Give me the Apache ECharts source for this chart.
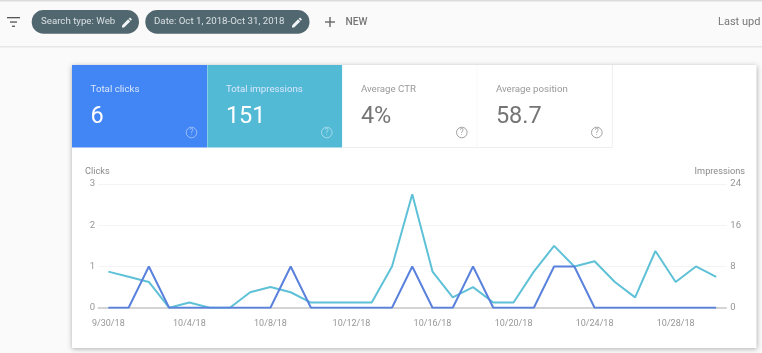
<!DOCTYPE html>
<html>
<head>
<meta charset="utf-8" />
<title>Search performance</title>
<script src="https://cdn.jsdelivr.net/npm/echarts@6/dist/echarts.min.js"></script>
<style type="text/css">
html, body { margin: 0; padding: 0; background: #fafafa; }
#main { width: 762px; height: 353px; filter: blur(0.4px); }
</style>
</head>
<body>
<div id="main"></div>
<script type="text/javascript">
var dates = ["9/30/18", "10/1/18", "10/2/18", "10/3/18", "10/4/18", "10/5/18", "10/6/18", "10/7/18",
	"10/8/18", "10/9/18", "10/10/18", "10/11/18", "10/12/18", "10/13/18", "10/14/18", "10/15/18",
	"10/16/18", "10/17/18", "10/18/18", "10/19/18", "10/20/18", "10/21/18", "10/22/18", "10/23/18",
	"10/24/18", "10/25/18", "10/26/18", "10/27/18", "10/28/18", "10/29/18", "10/30/18"];
var clicks = [0, 0, 1, 0, 0, 0, 0, 0, 0, 1, 0, 0, 0, 0, 0, 1, 0, 0, 1, 0, 0, 0, 1, 1, 0, 0, 0, 0, 0, 0, 0];
var impressions = [7, 6, 5, 0, 1, 0, 0, 3, 4, 3, 1, 1, 1, 1, 8, 22, 7, 2, 4, 1, 1, 7, 12, 8, 9, 5, 2, 11, 5, 8, 6];
var tiles = [
	{ label: "Total clicks", value: "6", x: 72, bg: "#4285f4", on: true },
	{ label: "Total impressions", value: "151", x: 207.3, bg: "#53bad6", on: true },
	{ label: "Average CTR", value: "4%", x: 342.3, bg: "#ffffff", on: false },
	{ label: "Average position", value: "58.7", x: 477.3, bg: "#ffffff", on: false }
];

var FONT = "Roboto";
// 铅笔图标的两段轮廓，单位是图标内的 0-1 坐标
var PENCIL_BODY = [[0, 0.79], [0, 1], [0.21, 1], [0.82, 0.39], [0.61, 0.18]];
var PENCIL_TIP = [[0.67, 0.12], [0.81, 0], [1, 0.19], [0.88, 0.33]];

function rect(x, y, w, h, fill, extra) {
	var style = { fill: fill };
	for (var k in extra) style[k] = extra[k];
	return { type: "rect", z: -5, shape: { x: x, y: y, width: w, height: h, r: (extra && extra.r) || 0 }, style: style };
}
function label(x, y, str, size, color, weight) {
	return { type: "text", z: -1, x: x, y: y, style: {
		text: str, fontFamily: FONT, fontSize: size, fill: color, fontWeight: weight || 400, verticalAlign: "middle"
	} };
}
function pencil(x, y, size) {
	return [PENCIL_BODY, PENCIL_TIP].map(function (pts) {
		return { type: "polygon", z: -1, shape: { points: pts.map(function (p) {
			return [x + p[0] * size, y + p[1] * size];
		}) }, style: { fill: "#f2f5f6" } };
	});
}

var els = [
	// 顶部工具栏
	rect(0, 0, 762, 46, "#fafafa"),
	rect(0, 0, 762, 1.5, "#dcdcdc"),
	rect(0, 46, 762, 1.5, "#e6e6e6"),
	rect(7, 17, 13, 1.3, "#555555"),
	rect(10, 21.4, 7, 1.3, "#555555"),
	rect(12, 25.6, 3, 1.3, "#555555"),
	rect(31.7, 10, 107.3, 23.7, "#51676f", { r: 11.8 }),
	rect(145.3, 10, 164.2, 23.7, "#51676f", { r: 11.8 }),
	label(41, 22, "Search type: Web", 9.7, "#d9e0e3"),
	label(154, 22, "Date: Oct 1, 2018-Oct 31, 2018", 9.7, "#d9e0e3"),
	rect(325, 21.3, 10, 1.4, "#666666"),
	rect(329.3, 17, 1.4, 10, "#666666"),
	label(345.5, 22.5, "NEW", 10.2, "#777777", 500),
	label(718, 22, "Last upd", 11, "#777777"),
	// 卡片
	rect(72, 65, 684.5, 283, "#ffffff", { shadowBlur: 5, shadowColor: "rgba(0,0,0,0.3)", shadowOffsetY: 1 })
];
els = els.concat(pencil(122, 17.5, 10), pencil(292, 17.5, 10));

tiles.forEach(function (t) {
	var labelColor = t.on ? "#d9e6fb" : "#999999";
	var valueColor = t.on ? "#ffffff" : "#757575";
	var helpColor = t.on ? "rgba(255,255,255,0.45)" : "#a0a0a0";
	els.push(rect(t.x, 65, 135, 82.5, t.bg));
	if (!t.on) {
		els.push(rect(t.x + 134.5, 65, 1, 82.5, "#eeeeee"));
		els.push(rect(t.x, 147, 135, 1, "#eeeeee"));
	}
	els.push(label(t.x + 18.6, 90, t.label, 9.7, labelColor));
	els.push(label(t.x + 18.6, 117, t.value, 23.5, valueColor));
	els.push({ type: "circle", z: -1, shape: { cx: t.x + 119.5, cy: 132.5, r: 5.3 },
		style: { fill: "none", stroke: helpColor, lineWidth: 1 } });
	els.push({ type: "text", z: -1, x: t.x + 119.5, y: 133, style: {
		text: "?", fontFamily: FONT, fontSize: 8.5, fill: helpColor, align: "center", verticalAlign: "middle"
	} });
});

els.push(label(85, 172, "Clicks", 9.2, "#8a8a8a"));
els.push({ type: "text", z: -1, x: 745, y: 172, style: {
	text: "Impressions", fontFamily: FONT, fontSize: 9.2, fill: "#8a8a8a", align: "right", verticalAlign: "middle"
} });

var myChart = echarts.init(document.getElementById("main"));

var option = {
	backgroundColor: "#fafafa",
	animation: false,
	textStyle: { fontFamily: FONT },
	graphic: { elements: els },
	grid: { left: 98.2, right: 35.7, top: 184, bottom: 45.3 },
	xAxis: {
		type: "category",
		data: dates,
		axisTick: { show: false },
		axisLine: { lineStyle: { color: "#c8c8c8", width: 1.5 } },
		axisLabel: { interval: 3, color: "#969696", fontSize: 9, margin: 12 }
	},
	yAxis: [
		{
			type: "value", min: 0, max: 3, interval: 1,
			axisLine: { show: false }, axisTick: { show: false },
			axisLabel: { color: "#969696", fontSize: 9.5, margin: 3, padding: [2, 0, 0, 0] },
			splitLine: { lineStyle: { color: "#f4f4f4", width: 1 } }
		},
		{
			type: "value", min: 0, max: 24, interval: 8,
			axisLine: { show: false }, axisTick: { show: false },
			axisLabel: { color: "#969696", fontSize: 9.5, margin: 4, padding: [2, 0, 0, 0] },
			splitLine: { show: false }
		}
	],
	series: [
		{
			name: "Impressions", type: "line", yAxisIndex: 1, data: impressions,
			showSymbol: false, lineStyle: { color: "#5fc1d7", width: 2 }
		},
		{
			name: "Clicks", type: "line", yAxisIndex: 0, data: clicks,
			showSymbol: false, lineStyle: { color: "#5a82dd", width: 2 }
		}
	]
};

myChart.setOption(option);
</script>
</body>
</html>
